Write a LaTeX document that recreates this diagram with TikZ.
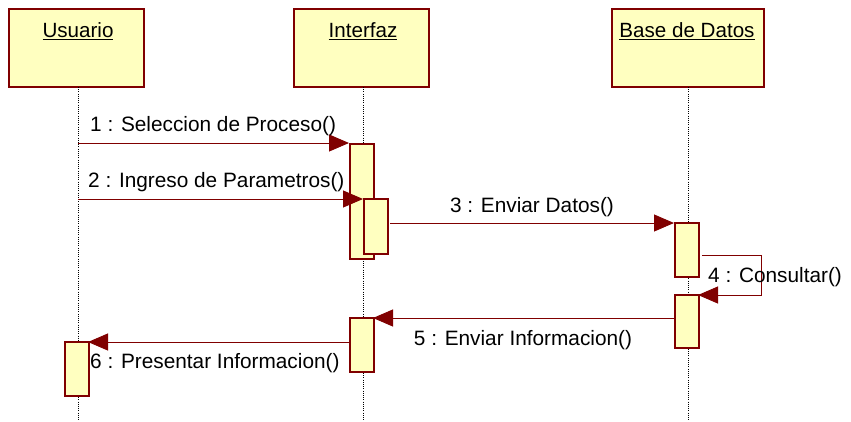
\documentclass[tikz,border=0pt]{standalone}
\usepackage{fontspec}
\setmainfont{Liberation Sans}
\usetikzlibrary{arrows.meta}
\definecolor{umlred}{HTML}{800000}
\definecolor{umlfill}{HTML}{FFFFC0}
\tikzset{
  objbox/.style={draw=umlred, fill=umlfill, line width=1.6pt, minimum width=135pt, minimum height=78pt, anchor=north west, inner sep=0pt},
  actbox/.style={draw=umlred, fill=umlfill, line width=1.6pt, minimum width=24pt, anchor=north west, inner sep=0pt},
  lifeline/.style={black, line width=1pt, dash pattern=on 1pt off 1.2pt},
  msg/.style={umlred, line width=1pt, -{Triangle[length=20pt,width=17pt]}},
  lbl/.style={font=\fontsize{20.8}{23}\selectfont, inner sep=0pt},
  ttl/.style={font=\fontsize{20.6}{23}\selectfont, inner sep=0pt}
}
\begin{document}
\begin{tikzpicture}[x=1pt,y=-1pt]
\useasboundingbox (0,0) rectangle (851,421);
% header boxes
\node[objbox] (usr) at (8,8) {};
\node[objbox] (ifz) at (293,8) {};
\node[objbox, minimum width=152pt] (bd) at (611,8) {};
\node[ttl] (tusr) at (78,31) {\underline{Usuario}};
\node[ttl] (tifz) at (363,31) {\underline{Interfaz}};
\node[ttl] (tbd) at (687,31) {\underline{Base de Datos}};
% lifelines
\coordinate (lu0) at (78,87); \coordinate (lu1) at (78,421);
\coordinate (li0) at (363,87); \coordinate (li1) at (363,421);
\coordinate (lb0) at (688,87); \coordinate (lb1) at (688,421);
\draw[lifeline] (lu0) -- (lu1);
\draw[lifeline] (li0) -- (li1);
\draw[lifeline] (lb0) -- (lb1);
% activations
\node[actbox, minimum height=115pt] (ia1) at (349,143) {};
\node[actbox, minimum height=55pt] (ia2) at (363,198) {};
\node[actbox, minimum height=54pt] (ba1) at (674,222) {};
\node[actbox, minimum height=53pt] (ba2) at (674,294) {};
\node[actbox, minimum height=54pt] (ia3) at (349,317) {};
\node[actbox, minimum height=54pt] (ua1) at (64,341) {};
% message end points
\coordinate (m1s) at (78,143);  \coordinate (m1e) at (349,143);
\coordinate (m2s) at (78,199);  \coordinate (m2e) at (363,199);
\coordinate (m3s) at (390,223); \coordinate (m3e) at (674,223);
\coordinate (m4s) at (702,255); \coordinate (c4a) at (761,255);
\coordinate (c4b) at (761,295); \coordinate (m4e) at (698,295);
\coordinate (m5s) at (674,318); \coordinate (m5e) at (373,318);
\coordinate (m6s) at (349,342); \coordinate (m6e) at (88,342);
% messages
\draw[msg] (m1s) -- (m1e);
\draw[msg] (m2s) -- (m2e);
\draw[msg] (m3s) -- (m3e);
\draw[msg] (m4s) -- (c4a) -- (c4b) -- (m4e);
\draw[msg] (m5s) -- (m5e);
\draw[msg] (m6s) -- (m6e);
% labels
\node[lbl, anchor=west] (l1) at (90,126) {1 : Seleccion de Proceso()};
\node[lbl, anchor=west] (l2) at (88,182) {2 : Ingreso de Parametros()};
\node[lbl] (l3) at (532,207) {3 : Enviar Datos()};
\node[lbl, anchor=west] (l4) at (708,277) {4 : Consultar()};
\node[lbl] (l5) at (523,340) {5 : Enviar Informacion()};
\node[lbl, anchor=west] (l6) at (90,363) {6 : Presentar Informacion()};
\end{tikzpicture}
\end{document}
